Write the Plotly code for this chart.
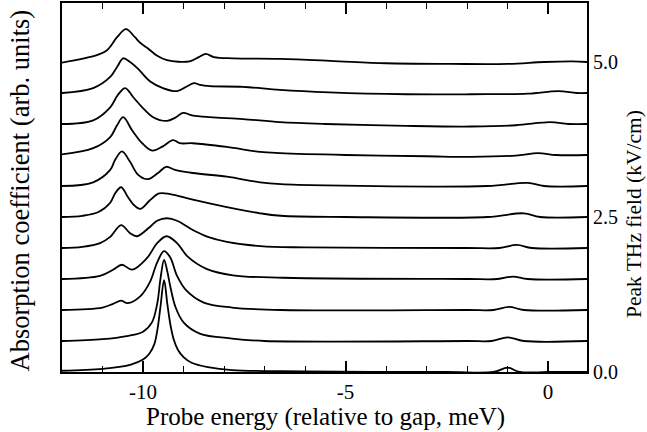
import plotly.graph_objects as go

# Peak THz field for each trace (kV/cm), also the vertical offset of each trace
fields = [0.0, 0.5, 1.0, 1.5, 2.0, 2.5, 3.0, 3.5, 4.0, 4.5, 5.0]

# Probe energy (meV) and absorption (arb. units)
E0 = [-12.0, -11.0, -10.3, -10.0, -9.85, -9.72, -9.64, -9.57, -9.48, -9.40, -9.32, -9.24, -9.14, -9.0, -8.8, -8.4, -7.8, -6.0, -2.5, -1.35, -1.0, -0.7, 0.0, 0.96]
A0 = [0.02, 0.05, 0.12, 0.2, 0.29, 0.45, 0.70, 1.05, 1.48, 1.10, 0.75, 0.52, 0.36, 0.24, 0.15, 0.08, 0.03, 0.01, 0.0, 0.0, 0.07, 0.0, 0.0, 0.0]

E1 = [-12.0, -11.0, -10.4, -10.0, -9.78, -9.65, -9.57, -9.48, -9.40, -9.32, -9.2, -9.0, -8.6, -7.8, -7.0, -2.0, -1.4, -1.0, -0.6, 0.96]
A1 = [0.0, 0.03, 0.08, 0.15, 0.30, 0.60, 1.0, 1.31, 1.12, 0.86, 0.55, 0.30, 0.12, 0.04, 0.0, 0.0, 0.0, 0.06, 0.0, 0.0]

E2 = [-12.0, -11.0, -10.74, -10.54, -10.38, -10.07, -9.83, -9.65, -9.48, -9.33, -9.16, -8.95, -8.5, -7.8, -6.6, -2.0, -1.35, -0.96, -0.6, 0.96]
A2 = [0.0, 0.04, 0.10, 0.15, 0.11, 0.22, 0.45, 0.77, 0.95, 0.85, 0.55, 0.33, 0.12, 0.04, 0.0, 0.0, 0.0, 0.05, 0.0, 0.0]

E3 = [-12.0, -11.06, -10.74, -10.52, -10.27, -9.9, -9.65, -9.42, -9.16, -8.91, -8.42, -7.78, -6.54, -2.0, -1.25, -0.87, -0.5, 0.96]
A3 = [0.0, 0.05, 0.15, 0.23, 0.15, 0.34, 0.58, 0.69, 0.58, 0.37, 0.16, 0.06, 0.02, 0.0, 0.0, 0.04, 0.0, 0.0]

E4 = [-12.0, -11.5, -11.06, -10.81, -10.54, -10.32, -10.15, -9.83, -9.65, -9.41, -9.16, -8.77, -8.4, -7.93, -7.1, -6.0, -2.0, -1.2, -0.77, -0.4, 0.96]
A4 = [0.0, 0.02, 0.08, 0.18, 0.37, 0.24, 0.19, 0.34, 0.44, 0.48, 0.44, 0.29, 0.18, 0.10, 0.03, 0.01, 0.0, 0.0, 0.05, 0.0, 0.0]

E5 = [-12.0, -11.5, -11.1, -10.81, -10.68, -10.54, -10.37, -10.22, -10.07, -9.83, -9.6, -9.33, -8.77, -7.93, -7.11, -6.6, -5.0, -1.5, -0.6, -0.2, 0.96]
A5 = [0.0, 0.02, 0.08, 0.23, 0.39, 0.48, 0.32, 0.19, 0.13, 0.27, 0.38, 0.37, 0.28, 0.16, 0.06, 0.02, 0.0, 0.0, 0.06, 0.0, 0.0]

E6 = [-12.0, -11.23, -10.81, -10.69, -10.52, -10.32, -10.12, -9.88, -9.63, -9.43, -9.21, -8.77, -7.93, -7.11, -6.6, -5.5, -1.5, -0.5, -0.1, 0.96]
A6 = [0.0, 0.06, 0.26, 0.42, 0.56, 0.39, 0.18, 0.11, 0.21, 0.31, 0.26, 0.21, 0.15, 0.06, 0.03, 0.01, 0.0, 0.05, 0.0, 0.0]

E7 = [-12.0, -11.23, -10.81, -10.64, -10.49, -10.27, -10.02, -9.77, -9.51, -9.26, -9.09, -8.77, -7.93, -7.11, -6.62, -5.0, -3.0, -1.9, -0.8, -0.25, 0.2, 0.96]
A7 = [0.01, 0.11, 0.29, 0.48, 0.61, 0.40, 0.19, 0.07, 0.14, 0.24, 0.19, 0.19, 0.13, 0.05, 0.03, 0.0, -0.02, -0.03, -0.01, 0.03, 0.0, 0.0]

E8 = [-12.0, -11.23, -10.81, -10.62, -10.44, -10.25, -10.02, -9.75, -9.41, -9.21, -9.01, -8.79, -8.35, -7.53, -6.62, -5.5, -3.5, -1.9, -0.8, 0.05, 0.5, 0.96]
A8 = [0.0, 0.06, 0.27, 0.47, 0.58, 0.44, 0.27, 0.11, 0.05, 0.10, 0.18, 0.14, 0.11, 0.08, 0.03, 0.0, -0.03, -0.04, -0.02, 0.03, 0.0, 0.0]

E9 = [-12.0, -11.23, -10.81, -10.64, -10.49, -10.32, -10.12, -9.83, -9.51, -9.16, -8.91, -8.74, -8.59, -8.35, -7.53, -6.62, -5.4, -3.5, -1.9, -0.5, 0.25, 0.7, 0.96]
A9 = [0.0, 0.08, 0.26, 0.42, 0.56, 0.50, 0.39, 0.19, 0.08, 0.03, 0.11, 0.16, 0.13, 0.11, 0.10, 0.05, 0.01, -0.02, -0.02, -0.01, 0.03, 0.0, 0.0]

E10 = [-12.0, -11.14, -10.89, -10.64, -10.42, -10.2, -10.07, -9.9, -9.65, -9.41, -8.85, -8.62, -8.45, -8.25, -7.78, -6.62, -5.38, -4.0, -2.4, -1.0, -0.1, 0.6, 0.96]
A10 = [-0.01, 0.11, 0.19, 0.40, 0.53, 0.40, 0.31, 0.23, 0.10, 0.03, 0.01, 0.08, 0.13, 0.08, 0.06, 0.05, 0.02, -0.02, -0.03, -0.03, 0.0, 0.01, 0.0]

energies = [E0, E1, E2, E3, E4, E5, E6, E7, E8, E9, E10]
absorptions = [A0, A1, A2, A3, A4, A5, A6, A7, A8, A9, A10]

x_ticks = [-10, -5, 0]
x_tick_labels = ["-10", "-5", "0"]
y_ticks = [0.0, 2.5, 5.0]
y_tick_labels = ["0.0", "2.5", "5.0"]

SERIF = "Liberation Serif, Times New Roman, serif"

fig = go.Figure()
for f, E, A in zip(fields, energies, absorptions):
    fig.add_trace(go.Scatter(
        x=E, y=[f + a for a in A], mode="lines",
        line=dict(color="black", width=1.8, shape="spline", smoothing=1.0),
        showlegend=False, hoverinfo="skip",
    ))

fig.update_layout(
    width=647, height=432,
    margin=dict(l=62, r=60, t=3, b=60, autoexpand=False),
    paper_bgcolor="white", plot_bgcolor="white",
    font=dict(family=SERIF, color="black"),
    xaxis=dict(
        range=[-12, 0.96], tickvals=x_ticks, ticktext=x_tick_labels,
        ticks="inside", ticklen=11, tickwidth=1.5, tickcolor="black",
        minor=dict(dtick=1, tick0=0, ticks="inside", ticklen=6, tickwidth=1.3, tickcolor="black"),
        showline=True, linewidth=2, linecolor="black", mirror="ticks",
        showgrid=False, zeroline=False, automargin=False,
        tickfont=dict(family=SERIF, size=21, color="black"),
    ),
    yaxis=dict(
        range=[0, 5.952], side="right", tickvals=y_ticks, ticktext=y_tick_labels,
        ticks="", showline=True, linewidth=2, linecolor="black", mirror=True,
        showgrid=False, zeroline=False, automargin=False,
        tickfont=dict(family=SERIF, size=20, color="black"),
    ),
    annotations=[
        dict(text="Probe energy (relative to gap, meV)", xref="paper", yref="paper",
             x=0.501, y=-0.122, xanchor="center", yanchor="middle", showarrow=False,
             font=dict(family=SERIF, size=25, color="black")),
        dict(text="Absorption coefficient (arb. units)", xref="paper", yref="paper",
             x=-0.08, y=0.492, xanchor="center", yanchor="middle", textangle=-90, showarrow=False,
             font=dict(family=SERIF, size=26.5, color="black")),
        dict(text="Peak THz field (kV/cm)", xref="paper", yref="paper",
             x=1.0895, y=0.428, xanchor="center", yanchor="middle", textangle=-90, showarrow=False,
             font=dict(family=SERIF, size=21.5, color="black")),
    ],
)

fig.write_html("out.html", config={"displayModeBar": False},
               post_script="document.body.style.margin='0';document.body.style.overflow='hidden';")
